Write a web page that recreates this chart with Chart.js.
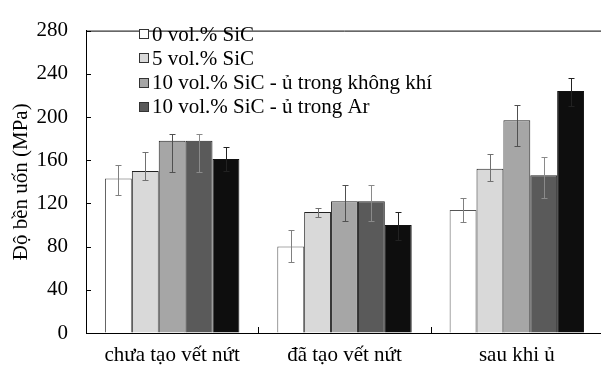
<!DOCTYPE html>
<html>
<head>
<meta charset="utf-8">
<script src="https://cdn.jsdelivr.net/npm/chart.js@4/dist/chart.umd.min.js"></script>
<style>
  html, body { margin: 0; padding: 0; background: #fff; overflow: hidden; }
  #wrap { position: absolute; left: 0; top: 0; width: 606px; height: 371px; }
</style>
</head>
<body>
<div id="wrap"><canvas id="c"></canvas></div>
<script>
const categories = ["chưa tạo vết nứt", "đã tạo vết nứt", "sau khi ủ"];
const seriesNames = [
  "0 vol.% SiC",
  "5 vol.% SiC",
  "10 vol.% SiC - ủ trong không khí",
  "10 vol.% SiC - ủ trong Ar",
  "",
];
const s0 = [143, 80, 114];
const s1 = [150, 112, 152];
const s2 = [178, 122, 197];
const s3 = [178, 122, 146];
const s4 = [161, 100, 224];
// error bar ends (upper / lower)
const hi0 = [156, 95, 125], lo0 = [128, 66, 103];
const hi1 = [168, 116, 166], lo1 = [142, 107, 141];
const hi2 = [184, 137, 211], lo2 = [149, 104, 173];
const hi3 = [184, 137, 163], lo3 = [149, 104, 125];
const hi4 = [172, 112, 236], lo4 = [150, 86, 210];
const yTicks = [0, 40, 80, 120, 160, 200, 240, 280];

const fills = ["#ffffff", "#d9d9d9", "#a6a6a6", "#5a5a5a", "#0e0e0e"];
const edges = ["#555555", "#222222", "#222222", "#222222", "#111111"];
const errCols = ["#808080", "#707070", "#505050", "#8a8a8a", "#222222"];
const FONT = "'Liberation Serif', 'Times New Roman', serif";

const values = [s0, s1, s2, s3, s4];
const highs = [hi0, hi1, hi2, hi3, hi4];
const lows = [lo0, lo1, lo2, lo3, lo4];

const datasets = values.map((v, i) => ({
  label: seriesNames[i],
  data: v,
  backgroundColor: fills[i],
  borderColor: edges[i],
  borderWidth: 1,
  categoryPercentage: 0.78,
  barPercentage: 1.0,
}));

const extras = {
  id: "extras",
  afterDatasetsDraw(chart) {
    const ctx = chart.ctx;
    const a = chart.chartArea;
    const y = chart.scales.y;
    ctx.save();
    // error bars
    ctx.lineWidth = 1;
    values.forEach((v, i) => {
      const meta = chart.getDatasetMeta(i);
      ctx.strokeStyle = errCols[i];
      meta.data.forEach((el, j) => {
        const x = Math.round(el.x) + 0.5;
        const yh = Math.round(y.getPixelForValue(highs[i][j])) + 0.5;
        const yl = Math.round(y.getPixelForValue(lows[i][j])) + 0.5;
        ctx.beginPath();
        ctx.moveTo(x, yh); ctx.lineTo(x, yl);
        ctx.moveTo(x - 3, yh); ctx.lineTo(x + 3, yh);
        ctx.moveTo(x - 3, yl); ctx.lineTo(x + 3, yl);
        ctx.stroke();
      });
    });
    // frame top + inward ticks
    ctx.strokeStyle = "#000";
    ctx.beginPath();
    ctx.moveTo(a.left, a.top + 0.5); ctx.lineTo(a.right, a.top + 0.5);
    yTicks.forEach((t) => {
      const py = Math.round(y.getPixelForValue(t)) + 0.5;
      ctx.moveTo(a.left, py); ctx.lineTo(a.left + 5, py);
    });
    const w = (a.right - a.left) / categories.length;
    for (let k = 1; k < categories.length; k++) {
      const px = Math.round(a.left + k * w) + 0.5;
      ctx.moveTo(px, a.bottom); ctx.lineTo(px, a.bottom - 6);
    }
    ctx.stroke();
    // legend (first four series only)
    ctx.font = "21px " + FONT;
    ctx.textBaseline = "middle";
    for (let i = 0; i < 4; i++) {
      const cy = 34 + i * 24.3;
      const by = Math.round(cy - 5) + 0.5;
      ctx.fillStyle = fills[i];
      ctx.fillRect(139.5, by, 9, 9);
      ctx.strokeStyle = "#333";
      ctx.strokeRect(139.5, by, 9, 9);
      ctx.fillStyle = "#000";
      ctx.fillText(seriesNames[i], 152, cy + 1);
    }
    ctx.restore();
  },
};

new Chart(document.getElementById("c"), {
  type: "bar",
  data: { labels: categories, datasets },
  plugins: [extras],
  options: {
    responsive: true,
    maintainAspectRatio: false,
    animation: false,
    layout: { padding: { top: 21, right: 3, left: 0, bottom: 0 } },
    plugins: { legend: { display: false }, tooltip: { enabled: false } },
    scales: {
      x: {
        grid: { drawOnChartArea: false, drawTicks: false },
        border: { color: "#000", width: 1 },
        ticks: { color: "#000", font: { family: FONT, size: 21 }, padding: 10, maxRotation: 0 },
        afterFit: (s) => { s.height = 38; },
      },
      y: {
        min: 0,
        max: 280,
        grid: { drawOnChartArea: false, drawTicks: false },
        border: { color: "#000", width: 1 },
        ticks: { stepSize: 40, color: "#000", font: { family: FONT, size: 21 }, padding: 18 },
        title: {
          display: true,
          text: "Độ bền uốn (MPa)",
          color: "#000",
          font: { family: FONT, size: 21 },
          padding: { top: 9, bottom: 0 },
        },
        afterFit: (s) => { s.width = 86; },
      },
    },
  },
});
</script>
</body>
</html>
